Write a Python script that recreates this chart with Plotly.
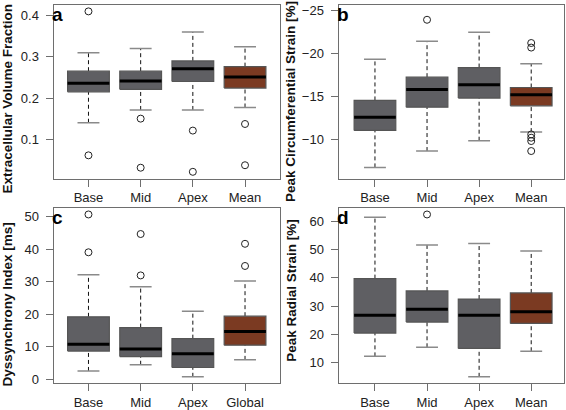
import plotly.graph_objects as go

W, H = 566, 410

# ---------------- data ----------------
cats_a = ["Base", "Mid", "Apex", "Mean"]
a_lo = [0.140, 0.171, 0.171, 0.177]
a_q1 = [0.215, 0.221, 0.240, 0.224]
a_med = [0.236, 0.241, 0.271, 0.251]
a_q3 = [0.265, 0.265, 0.290, 0.276]
a_hi = [0.310, 0.320, 0.360, 0.324]
a_out = [[0.410, 0.061], [0.150, 0.031], [0.121, 0.021], [0.137, 0.037]]

cats_b = ["Base", "Mid", "Apex", "Mean"]
b_lo = [-6.75, -8.65, -9.85, -10.85]
b_q1 = [-11.05, -13.75, -14.80, -13.90]
b_med = [-12.59, -15.80, -16.34, -15.18]
b_q3 = [-14.53, -17.23, -18.35, -16.03]
b_hi = [-19.30, -21.40, -22.45, -18.80]
b_out = [[], [-23.9], [], [-21.2, -20.67, -10.58, -10.2, -9.81, -8.65]]

cats_c = ["Base", "Mid", "Apex", "Global"]
c_lo = [2.6, 4.5, 0.8, 6.0]
c_q1 = [8.7, 7.0, 3.65, 10.5]
c_med = [10.8, 9.35, 7.9, 14.7]
c_q3 = [19.2, 15.9, 12.5, 19.4]
c_hi = [32.1, 28.4, 20.9, 30.2]
c_out = [[50.6, 39.0], [44.6, 31.9], [], [41.6, 34.8]]

cats_d = ["Base", "Mid", "Apex", "Mean"]
d_lo = [12.3, 15.5, 5.1, 14.1]
d_q1 = [20.5, 24.4, 15.1, 23.9]
d_med = [26.8, 28.9, 26.8, 28.0]
d_q3 = [39.7, 35.35, 32.5, 34.65]
d_hi = [61.3, 51.5, 52.1, 49.4]
d_out = [[], [62.3], [], []]

ticks_a = [0.1, 0.2, 0.3, 0.4]
ticks_b = [-25, -20, -15, -10]
ticks_c = [0, 10, 20, 30, 40, 50]
ticks_d = [10, 20, 30, 40, 50, 60]

titles = ["Extracellular Volume Fraction", "Peak Circumferential Strain [%]",
          "Dyssynchrony Index [ms]", "Peak Radial Strain [%]"]
letters = ["a", "b", "c", "d"]

# ---------------- style ----------------
GRAY = "#5f5f63"
RUST = "#7b3a22"
EDGE = "#555555"
FRAME = "#6e6e6e"
TXT = "#222222"
FONT = "Liberation Sans, Arial, Helvetica, sans-serif"
HALF = 0.4
CAP = 0.21

# panel frames in pixels: (x0, x1, ytop, ybot)
frames = [(53.5, 280.0, 3.0, 179.3), (338.5, 563.5, 3.0, 179.3),
          (53.5, 280.0, 209.0, 387.0), (338.5, 563.5, 209.0, 387.0)]
xranges = [[0.33, 4.67], [0.30, 4.62], [0.33, 4.67], [0.30, 4.62]]
yranges = [[0.0044, 0.4256], [-5.44, -25.62], [-1.2, 52.6], [2.8, 64.6]]
title_cy = [98, 101.5, 307, 292.5]
title_cx = [8, 290, 8, 291.5]

panels = [
    (cats_a, a_lo, a_q1, a_med, a_q3, a_hi, a_out, ticks_a, ["0.1", "0.2", "0.3", "0.4"]),
    (cats_b, b_lo, b_q1, b_med, b_q3, b_hi, b_out, ticks_b, ["\u221225", "\u221220", "\u221215", "\u221210"]),
    (cats_c, c_lo, c_q1, c_med, c_q3, c_hi, c_out, ticks_c, [str(t) for t in ticks_c]),
    (cats_d, d_lo, d_q1, d_med, d_q3, d_hi, d_out, ticks_d, [str(t) for t in ticks_d]),
]

fig = go.Figure()
layout = {}
annotations = []

for p, (cats, lo, q1, med, q3, hi, outs, tv, tt) in enumerate(panels):
    sfx = "" if p == 0 else str(p + 1)
    xa, ya = "x" + sfx, "y" + sfx
    x0, x1, yt, yb = frames[p]
    n = len(cats)
    for i in range(n):
        xc = i + 1
        fill = RUST if i == n - 1 else GRAY
        # whiskers (dashed)
        fig.add_trace(go.Scatter(x=[xc, xc, None, xc, xc], y=[lo[i], q1[i], None, q3[i], hi[i]],
                                 mode="lines", line=dict(color="#111111", width=1, dash="4px,3px"),
                                 xaxis=xa, yaxis=ya, showlegend=False, hoverinfo="skip"))
        # caps
        fig.add_trace(go.Scatter(x=[xc - CAP, xc + CAP, None, xc - CAP, xc + CAP],
                                 y=[lo[i], lo[i], None, hi[i], hi[i]],
                                 mode="lines", line=dict(color="#8a8a8a", width=1.5),
                                 xaxis=xa, yaxis=ya, showlegend=False, hoverinfo="skip"))
        # box
        fig.add_trace(go.Scatter(x=[xc - HALF, xc + HALF, xc + HALF, xc - HALF, xc - HALF],
                                 y=[q1[i], q1[i], q3[i], q3[i], q1[i]],
                                 mode="lines", fill="toself", fillcolor=fill,
                                 line=dict(color=EDGE, width=1.2),
                                 xaxis=xa, yaxis=ya, showlegend=False, hoverinfo="skip"))
        # median
        fig.add_trace(go.Scatter(x=[xc - HALF, xc + HALF], y=[med[i], med[i]],
                                 mode="lines", line=dict(color="#000000", width=3),
                                 xaxis=xa, yaxis=ya, showlegend=False, hoverinfo="skip"))
        # outliers
        if outs[i]:
            fig.add_trace(go.Scatter(x=[xc] * len(outs[i]), y=outs[i], mode="markers",
                                     marker=dict(symbol="circle-open", size=7,
                                                 color="#222222", line=dict(width=1)),
                                     xaxis=xa, yaxis=ya, showlegend=False, hoverinfo="skip"))

    layout["xaxis" + sfx] = dict(
        domain=[x0 / W, x1 / W], anchor=ya, range=xranges[p],
        tickmode="array", tickvals=list(range(1, n + 1)), ticktext=cats,
        ticks="outside", ticklen=7, tickcolor=FRAME, tickwidth=1,
        showline=True, linecolor=FRAME, linewidth=1, mirror=True,
        showgrid=False, zeroline=False, fixedrange=True,
        tickfont=dict(family=FONT, size=13, color=TXT))
    layout["yaxis" + sfx] = dict(
        domain=[1 - yb / H, 1 - yt / H], anchor=xa, range=yranges[p],
        tickmode="array", tickvals=tv, ticktext=tt,
        ticks="outside", ticklen=7, tickcolor=FRAME, tickwidth=1,
        showline=True, linecolor=FRAME, linewidth=1, mirror=True,
        showgrid=False, zeroline=False, fixedrange=True,
        ticklabelstandoff=4,
        tickfont=dict(family=FONT, size=13, color=TXT))

    annotations.append(dict(text="<b>" + letters[p] + "</b>", xref="paper", yref="paper",
                            x=x0 / W, y=1 - yt / H, xanchor="left", yanchor="top",
                            xshift=-3, yshift=2, borderpad=0,
                            showarrow=False, font=dict(family=FONT, size=19, color="#000000")))
    annotations.append(dict(text="<b>" + titles[p] + "</b>", xref="paper", yref="paper",
                            x=title_cx[p] / W, y=1 - title_cy[p] / H, xanchor="center", yanchor="middle",
                            textangle=-90, showarrow=False,
                            font=dict(family=FONT, size=13.5, color="#111111")))

fig.update_layout(width=W, height=H, margin=dict(l=0, r=0, t=0, b=0),
                  paper_bgcolor="white", plot_bgcolor="white",
                  annotations=annotations, **layout)

fig.write_html("out.html", config={"displayModeBar": False},
               post_script="document.body.style.margin='0px';document.body.style.padding='0px';document.body.style.overflow='hidden';")
